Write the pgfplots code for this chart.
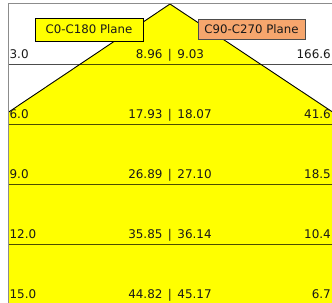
\documentclass[border=0pt]{standalone}
\usepackage{fontspec}
\setmainfont{DejaVu Sans}
\usepackage{pgfplots}
\usepackage{pgfplotstable}
\pgfplotsset{compat=1.18}
\definecolor{conefill}{RGB}{255,255,0}
\definecolor{planeorange}{RGB}{246,166,109}
\definecolor{txt}{RGB}{25,25,25}

\pgfplotstableread[col sep=comma]{
d,dlab,dia,lux
3,3.0,8.96\hspace{5.5pt}|\hspace{5.5pt}9.03,166.6
6,6.0,17.93\hspace{5.5pt}|\hspace{5.5pt}18.07,41.6
9,9.0,26.89\hspace{5.5pt}|\hspace{5.5pt}27.10,18.5
12,12.0,35.85\hspace{5.5pt}|\hspace{5.5pt}36.14,10.4
15,15.0,44.82\hspace{5.5pt}|\hspace{5.5pt}45.17,6.7
}\conedata

\begin{document}
\begin{tikzpicture}
\begin{axis}[
  scale only axis, width=324bp, height=300bp,
  xmin=-8.1, xmax=8.1, ymin=0, ymax=15, y dir=reverse,
  axis lines=none,
  clip=true,
]
% cone (half-diameters: C0-C180 4.48 at 3 m, C90-C270 4.515 at 3 m)
\addplot[fill=conefill, draw=none] coordinates {(-22.4,15) (0,0) (22.575,15)} -- cycle;
\addplot[black, line width=0.9pt] coordinates {(-22.4,15) (0,0) (22.575,15)};
% distance lines
\addplot[black, opacity=0.7, line width=1pt] coordinates {(-8.1,3) (8.1,3)};
\addplot[black, opacity=0.7, line width=1pt] coordinates {(-8.1,6) (8.1,6)};
\addplot[black, opacity=0.7, line width=1pt] coordinates {(-8.1,9) (8.1,9)};
\addplot[black, opacity=0.7, line width=1pt] coordinates {(-8.1,12) (8.1,12)};
% labels
\addplot[draw=none, mark=none, nodes near coords, point meta=explicit symbolic,
  every node near coord/.append style={anchor=base west, inner sep=0pt, yshift=6bp, text=txt, font=\fontsize{12}{14}\selectfont}]
  table[x expr=-8.03, y=d, meta=dlab] {\conedata};
\addplot[draw=none, mark=none, nodes near coords, point meta=explicit symbolic,
  every node near coord/.append style={anchor=base, inner sep=0pt, yshift=6bp, text=txt, font=\fontsize{12}{14}\selectfont}]
  table[x expr=0, y=d, meta=dia] {\conedata};
\addplot[draw=none, mark=none, nodes near coords, point meta=explicit symbolic,
  every node near coord/.append style={anchor=base east, inner sep=0pt, yshift=6bp, text=txt, font=\fontsize{12}{14}\selectfont}]
  table[x expr=8.05, y=d, meta=lux] {\conedata};
% plane boxes
\node[draw=black, fill=conefill, minimum width=108bp, minimum height=23bp, inner sep=0pt, text=txt,
  font=\fontsize{11.8}{13}\selectfont] at (axis cs:-4.05,1.275) {C0-C180 Plane};
\node[draw=black!70, fill=planeorange, minimum width=107bp, minimum height=20bp, inner sep=0pt, text=txt,
  font=\fontsize{11.8}{13}\selectfont] at (axis cs:4.075,1.25) {C90-C270 Plane};
\coordinate (tl) at (axis cs:-8.1,0);
\coordinate (bl) at (axis cs:-8.1,15);
\coordinate (tr) at (axis cs:8.1,0);
\end{axis}
\draw[black!45, line width=1pt] (bl) -- (tl) -- (tr);
\pgfresetboundingbox
\path[use as bounding box] ([shift={(-8bp,1bp)}]bl) rectangle ([shift={(0bp,4bp)}]tr);
\end{tikzpicture}
\end{document}
